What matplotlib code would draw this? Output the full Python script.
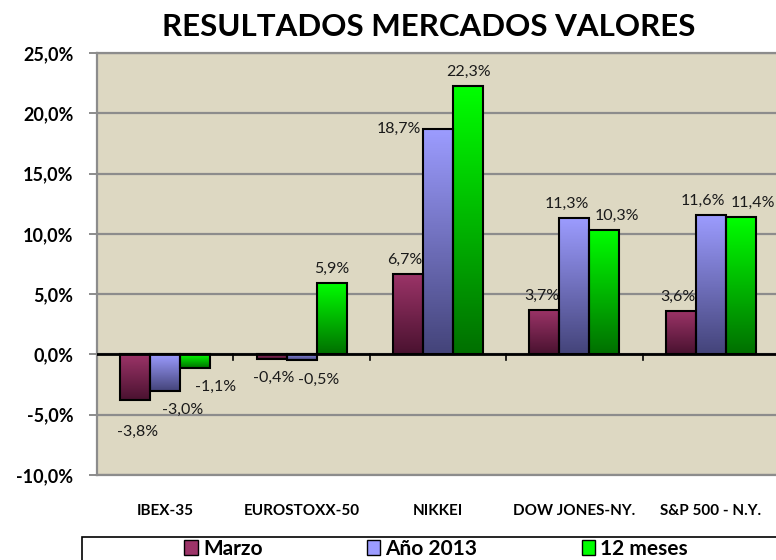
import numpy as np
import matplotlib.pyplot as plt
from matplotlib.colors import LinearSegmentedColormap
from matplotlib.patches import Patch, Rectangle

plt.rcParams['font.family'] = ['Lato', 'DejaVu Sans']

# data
categories = ["IBEX-35", "EUROSTOXX-50", "NIKKEI", "DOW JONES-NY.", "S&P 500 - N.Y."]
series_names = ["Marzo", "Año 2013", "12 meses"]
marzo = [-3.8, -0.4, 6.7, 3.7, 3.6]
anio_2013 = [-3.0, -0.5, 18.7, 11.3, 11.6]
doce_meses = [-1.1, 5.9, 22.3, 10.3, 11.4]
yticks = [-10, -5, 0, 5, 10, 15, 20, 25]

# gradient top / bottom colours per series
grad = [("#9c3468", "#4a1230"), ("#9c9cff", "#44447a"), ("#00ff00", "#007000")]

PX = 0.72  # points per pixel at 100 dpi


def fmt(v):
    return ("%.1f%%" % v).replace(".", ",")


fig = plt.figure(figsize=(7.76, 5.6), dpi=100)
ax = fig.add_axes([0.125, 0.152, 0.879, 0.753])
ax.set_facecolor("#ddd8c2")

x = np.arange(len(categories))
w = 0.22
all_series = [marzo, anio_2013, doce_meses]

for i, vals in enumerate(all_series):
    pos = x + (i - 1) * w
    bars = ax.bar(pos, vals, w, facecolor="none", edgecolor="black", linewidth=1.5, zorder=4)
    cmap = LinearSegmentedColormap.from_list("g%d" % i, [grad[i][1], grad[i][0]])
    g = np.linspace(0, 1, 100).reshape(-1, 1)
    for k, (b, v) in enumerate(zip(bars, vals)):
        x0 = b.get_x()
        im = ax.imshow(g, cmap=cmap, origin="lower", aspect="auto",
                       extent=[x0, x0 + w, min(0, v), max(0, v)], zorder=3)
        im.set_clip_path(b)

        # label placement, roughly like Excel's collision handling
        a, d = anio_2013[k], doce_meses[k]
        ha, va = "center", "bottom"
        xc = x0 + w / 2
        if v >= 0:
            dx, dy = 0, 7
            if i == 0:
                dx = -3
            elif i == 1:
                if d > a + 3:
                    xc, ha, va, dx, dy = x0, "right", "center", -2, 0
                elif abs(a - d) < 2:
                    dx = -8
            elif i == 2 and abs(a - d) < 2:
                dx = 12
        else:
            va = "top"
            dx, dy = 0, -12
            if i == 0:
                dx = 2
                if a < 0 and v < a - 0.5:
                    dy = -25
            elif i == 1:
                dx = 17
            else:
                dx = 20
        ax.annotate(fmt(v), (xc, v), xytext=(dx * PX, dy * PX), textcoords="offset points",
                    ha=ha, va=va, fontsize=11.5, color="#1a1a1a", zorder=6)

ax.set_xlim(-0.5, len(categories) - 0.5)
ax.set_ylim(-10, 25)
ax.set_yticks(yticks)
ax.set_yticklabels([fmt(t) for t in yticks], fontsize=13, fontweight="bold")
ax.yaxis.grid(True, color="#8c8c8c", linewidth=1.6, zorder=1)
ax.set_axisbelow(True)
ax.tick_params(axis="y", length=6, color="#8c8c8c", width=1.4, pad=11)

ax.set_xticks(x)
ax.set_xticklabels(categories, fontsize=11, fontweight="bold")
ax.tick_params(axis="x", length=0, pad=21)

# zero line and category separators
ax.axhline(0, color="black", linewidth=2, zorder=5)
for b in x[:-1] + 0.5:
    ax.plot([b, b], [0, -0.45], color="black", linewidth=1.2, zorder=5)

for s in ["top", "left", "bottom"]:
    ax.spines[s].set_color("#8c8c8c")
    ax.spines[s].set_linewidth(1.6)
ax.spines["right"].set_visible(False)

fig.text(0.552, 0.952, "RESULTADOS MERCADOS VALORES", fontsize=22.5, fontweight="bold",
         ha="center", va="center")

# legend: frame drawn separately so it runs off the right edge like the original
fig.patches.append(Rectangle((0.106, -0.05), 0.95, 0.091, transform=fig.transFigure,
                             facecolor="white", edgecolor="black", linewidth=1.2))
handles = [Patch(facecolor=grad[i][0], edgecolor="black") for i in range(3)]
leg = fig.legend(handles, series_names, ncol=3, loc="center",
                 bbox_to_anchor=(0.562, 0.02), frameon=False,
                 prop={"weight": "bold", "size": 15}, handlelength=0.65,
                 handleheight=0.75, handletextpad=0.25, columnspacing=5.0,
                 borderpad=0)

fig.savefig("out.png", dpi=100, facecolor="white")
